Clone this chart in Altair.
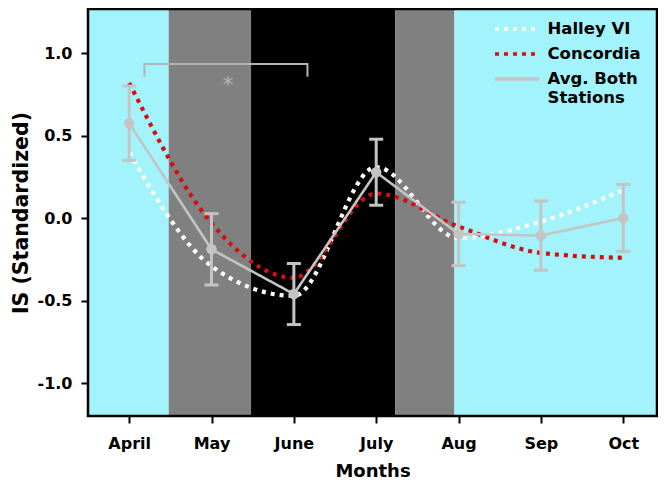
import altair as alt
import pandas as pd

# ---------------- data ----------------
months = ["April", "May", "June", "July", "Aug", "Sep", "Oct"]
month_idx = [0, 1, 2, 3, 4, 5, 6]

halley = [0.40, -0.29, -0.47, 0.31, -0.12, -0.02, 0.17]
concordia = [0.82, -0.03, -0.36, 0.15, -0.05, -0.21, -0.24]
avg_both = [0.576, -0.188, -0.459, 0.279, -0.095, -0.105, 0.002]
avg_err = [0.225, 0.216, 0.185, 0.200, 0.192, 0.210, 0.203]

# light-regime background bands (in month units)
band_start = [-0.5, 0.48, 1.48, 3.23, 3.95]
band_end = [0.48, 1.48, 3.23, 3.95, 6.41]
band_fill = ["#a2f3fb", "#808080", "#000000", "#808080", "#a2f3fb"]

# significance bracket April-June
bracket_x = [0.185, 0.185, 2.165, 2.165]
bracket_y = [0.858, 0.935, 0.935, 0.858]
star_x = [1.2]
star_y = [0.83]

series_names = ["Halley VI", "Concordia", "Avg. Both Stations"]
series_colors = ["#ffffff", "#d40f0f", "#c4c4c4"]
series_dash = [[4, 5], [4, 5], [1, 0]]

y_ticks = [-1.0, -0.5, 0.0, 0.5, 1.0]
X_DOMAIN = [-0.5, 6.41]
Y_DOMAIN = [-1.198, 1.268]

FONT = "DejaVu Sans"

# ---------------- tables ----------------
bands = pd.DataFrame({"x0": band_start, "x1": band_end, "fill": band_fill})
dotted = pd.DataFrame({
    "m": month_idx * 2,
    "v": halley + concordia,
    "series": [series_names[0]] * 7 + [series_names[1]] * 7,
})
avg = pd.DataFrame({
    "m": month_idx,
    "v": avg_both,
    "lo": [a - e for a, e in zip(avg_both, avg_err)],
    "hi": [a + e for a, e in zip(avg_both, avg_err)],
    "series": [series_names[2]] * 7,
})
bracket = pd.DataFrame({"bx": bracket_x, "by": bracket_y, "o": [0, 1, 2, 3]})
star = pd.DataFrame({"sx": star_x, "sy": star_y, "t": ["*"]})
frame = pd.DataFrame({"f": [0]})

xs = alt.Scale(domain=X_DOMAIN, nice=False, zero=False)
ys = alt.Scale(domain=Y_DOMAIN, nice=False, zero=False)

label_js = "[" + ",".join("'%s'" % m for m in months) + "][datum.value]"

x_axis = alt.Axis(
    values=month_idx, labelExpr=label_js, title="Months", grid=False,
    domain=False, tickColor="black", tickWidth=2, tickSize=7,
    labelFont=FONT, labelFontWeight="bold", labelFontSize=16, labelColor="black",
    labelPadding=12, titleFont=FONT, titleFontWeight="bold", titleFontSize=18,
    titleColor="black", titlePadding=11,
)
y_axis = alt.Axis(
    values=y_ticks,
    labelExpr="replace(format(datum.value, '.1f'), '\u2212', '-')",
    title="IS (Standardized)", grid=False, domain=False,
    tickColor="black", tickWidth=2, tickSize=7,
    labelFont=FONT, labelFontWeight="bold", labelFontSize=16, labelColor="black",
    labelPadding=9, titleFont=FONT, titleFontWeight="bold", titleFontSize=20.5,
    titleColor="black", titlePadding=6,
)

multi = series_names[2]
legend_expr = ("datum.label == '%s' ? ['Avg. Both', '\u00a0\u00a0Stations'] : datum.label" % multi)

legend = alt.Legend(
    title=None, orient="none", legendX=416, legendY=7, padding=0,
    symbolType="M-2,0H2", symbolSize=484, symbolStrokeWidth=3.5,
    labelFont=FONT, labelFontWeight="bold", labelFontSize=16.5, labelColor="black",
    labelOffset=17.5, rowPadding=3, labelExpr=legend_expr, labelLimit=300,
)

color_enc = alt.Color("series:N", scale=alt.Scale(domain=series_names, range=series_colors),
                      legend=legend)
dash_enc = alt.StrokeDash("series:N", scale=alt.Scale(domain=series_names, range=series_dash),
                          legend=legend)

bg = alt.Chart(bands).mark_rect().encode(
    x=alt.X("x0:Q", scale=xs, axis=x_axis),
    x2="x1:Q",
    y=alt.value(0),
    y2=alt.value("height"),
    fill=alt.Fill("fill:N", scale=None),
)

dots = alt.Chart(dotted).mark_line(interpolate="monotone", strokeWidth=4.2, strokeCap="butt").encode(
    x=alt.X("m:Q", scale=xs),
    y=alt.Y("v:Q", scale=ys, axis=y_axis),
    color=color_enc,
    strokeDash=dash_enc,
)

avg_line = alt.Chart(avg).mark_line(strokeWidth=2.6).encode(
    x=alt.X("m:Q", scale=xs),
    y=alt.Y("v:Q", scale=ys),
    color=color_enc,
    strokeDash=dash_enc,
)

err_rule = alt.Chart(avg).mark_rule(color="#c4c4c4", strokeWidth=3).encode(
    x=alt.X("m:Q", scale=xs), y=alt.Y("lo:Q", scale=ys), y2="hi:Q",
)
cap_lo = alt.Chart(avg).mark_tick(color="#c4c4c4", thickness=3, size=14, orient="horizontal", opacity=1).encode(
    x=alt.X("m:Q", scale=xs), y=alt.Y("lo:Q", scale=ys),
)
cap_hi = alt.Chart(avg).mark_tick(color="#c4c4c4", thickness=3, size=14, orient="horizontal", opacity=1).encode(
    x=alt.X("m:Q", scale=xs), y=alt.Y("hi:Q", scale=ys),
)
pts = alt.Chart(avg).mark_point(filled=True, size=110, color="#c4c4c4", opacity=1).encode(
    x=alt.X("m:Q", scale=xs), y=alt.Y("v:Q", scale=ys),
)

br = alt.Chart(bracket).mark_line(color="#b4b4b4", strokeWidth=2).encode(
    x=alt.X("bx:Q", scale=xs), y=alt.Y("by:Q", scale=ys), order="o:Q",
)
st = alt.Chart(star).mark_text(color="#b4b4b4", fontSize=22, font=FONT, baseline="middle", dy=4).encode(
    x=alt.X("sx:Q", scale=xs), y=alt.Y("sy:Q", scale=ys), text="t:N",
)

fr = alt.Chart(frame).mark_rect(fill=None, fillOpacity=0, stroke="black", strokeWidth=2.5).encode(
    x=alt.value(0), x2=alt.value("width"), y=alt.value(0), y2=alt.value("height"),
)

chart = alt.layer(bg, dots, avg_line, err_rule, cap_lo, cap_hi, pts, br, st, fr).properties(
    width=569, height=407,
    padding={"left": 80, "top": 1, "right": 1, "bottom": 63},
    autosize=alt.AutoSizeParams(type="none"),
).configure_view(stroke=None).configure(background="white")

chart.save("out.html", embed_options={"renderer": "svg", "actions": False})
